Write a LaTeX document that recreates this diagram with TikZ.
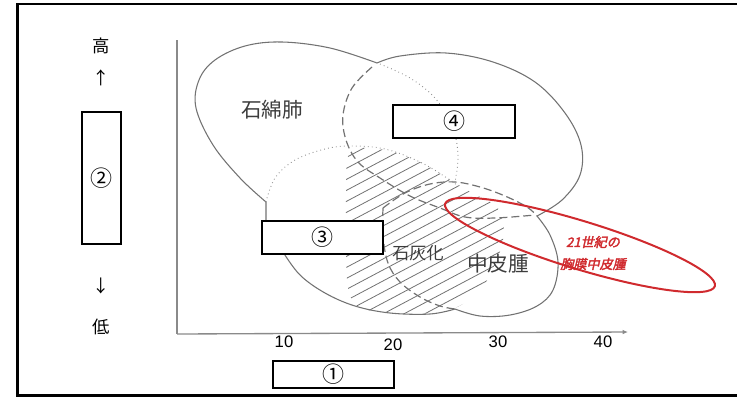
\documentclass[tikz,border=0pt]{standalone}
\usepackage{fontspec}
\setmainfont{Liberation Sans}
\newfontfamily\jp{Noto Sans CJK JP}
\newfontfamily\jpred[FakeSlant=0.22,FakeBold=2.6]{Noto Sans CJK JP}
\usetikzlibrary{arrows.meta}
\definecolor{shapeg}{HTML}{727272}
\definecolor{lblg}{HTML}{3C3C3C}
\definecolor{axisg}{HTML}{8A8A8A}
\definecolor{redl}{HTML}{D02A2E}
\tikzset{
  outline/.style={draw=shapeg, line width=0.8pt},
  dashline/.style={draw=shapeg, line width=0.9pt, dash pattern=on 6pt off 3pt},
  dotline/.style={draw=shapeg!80, line width=0.7pt, dash pattern=on 0.6pt off 2.4pt},
  hatch/.style={draw=shapeg, line width=0.6pt},
  numbox/.style={draw=black, line width=1.6pt, fill=white, inner sep=0pt, font=\jp\fontsize{16.5}{17}\selectfont},
  sidetxt/.style={font=\jp\fontsize{13}{13}\selectfont, text=black},
  tick/.style={font=\fontsize{12.5}{12}\selectfont, text=black},
  biglbl/.style={font=\jp\fontsize{15.5}{16}\selectfont, text=lblg},
  redtxt/.style={font=\jpred\fontsize{9.8}{10}\selectfont, text=redl},
}
\begin{document}
\begin{tikzpicture}[x=0.75pt,y=-0.75pt]
\useasboundingbox (0,0) rectangle (737,397);
% outer frame
\draw[line width=1.8pt] (745,4) -- (17.5,4) -- (17.5,395.3) -- (745,395.3);

% axes
\coordinate (origin) at (177,334);
\coordinate (ytop) at (177,40);
\coordinate (xend) at (628,332);
\draw[axisg, line width=1pt] (ytop) -- (origin);
\draw[axisg, line width=1pt, -{Latex[length=4pt,width=3.5pt]}] (origin) -- (xend);

% hatching
\begin{scope}
\clip plot[smooth cycle] coordinates {(350,152) (385,150) (420,162) (447,178) (472,193) (497,207) (504,232) (496,263) (480,290) (455,308) (420,314) (380,312) (356,305) (347,280) (346,200)};
\foreach \k in {0,...,26} \draw[hatch] (300,160+11*\k) -- (560,22+11*\k);
\end{scope}

% asbestosis outline (left lobe)
\draw[outline] (266,224) -- plot[smooth, tension=0.6] coordinates {(266,202) (240,178) (213,145) (196,108) (199,80) (215,60) (245,46) (282,42) (330,48) (377,63)};
% right lobe solid
\draw[outline] plot[smooth, tension=0.6] coordinates {(377,63) (400,56) (446,53) (493,62) (535,82) (565,113) (581,145) (580,175) (562,200) (537,216)};
% mesothelioma solid lower right
\draw[outline] plot[smooth, tension=0.6] coordinates {(537,216) (550,235) (558,262) (553,290) (537,306) (510,315) (480,316) (455,309)};
% calcification lower solid
\draw[outline] plot[smooth, tension=0.6] coordinates {(283,252) (300,275) (325,293) (355,306) (390,313) (430,314) (455,309)};

% dashed inner boundary of right lobe
\draw[dashline] plot[smooth, tension=0.6] coordinates {(372,67) (352,88) (343,115) (346,140) (358,162) (380,178) (410,196) (440,208) (465,217) (495,218) (535,215)};
% dashed upper boundary of mesothelioma
\draw[dashline] plot[smooth, tension=0.6] coordinates {(383,208) (405,193) (430,184) (455,182) (480,187) (505,196) (527,207) (537,216)};
% left boundary of mesothelioma
\draw[dashline] plot[smooth, tension=0.6] coordinates {(383,208) (383,236) (388,263) (400,282) (420,297) (440,306) (455,309)};

% dotted boundaries
\draw[dotline] plot[smooth, tension=0.6] coordinates {(380,64) (410,78) (435,98) (452,125) (458,155) (455,182)};
\draw[dotline] plot[smooth, tension=0.6] coordinates {(266,202) (275,178) (295,160) (325,149) (350,146) (385,149) (420,162) (447,178) (458,186)};

% red ellipse
\draw[redl, line width=1.5pt, rotate around={-17:(580,245)}] (580,245) ellipse [x radius=141, y radius=24];
\node[redtxt] (red1) at (593,242) {21世紀の};
\node[redtxt] (red2) at (593,264) {胸膜中皮腫};

% region labels
\node[biglbl] (asb) at (272,110) {石綿肺};
\node[biglbl, font=\jp\fontsize{12.8}{13}\selectfont] (calc) at (418,253) {石灰化};
\node[biglbl] (meso) at (498,264) {中皮腫};

% boxes
\node[numbox, minimum width=90.75pt, minimum height=20.25pt] (b1) at (333.5,374.5) {①};
\node[numbox, minimum width=29.25pt, minimum height=99pt] (b2) at (101.5,178) {②};
\node[numbox, minimum width=90.75pt, minimum height=24.75pt] (b3) at (322.5,237.5) {③};
\node[numbox, minimum width=91.5pt, minimum height=24.75pt] (b4) at (454,121.5) {④};

% side labels
\node[sidetxt] (hi) at (101,46) {高};
\node[sidetxt] (up) at (101,78) {↑};
\node[sidetxt] (dn) at (101,286) {↓};
\node[sidetxt] (lo) at (101,327) {低};

% tick labels
\node[tick] (t10) at (284,342) {10};
\node[tick] (t20) at (393,345) {20};
\node[tick] (t30) at (498,342) {30};
\node[tick] (t40) at (603,342) {40};
\end{tikzpicture}
\end{document}
